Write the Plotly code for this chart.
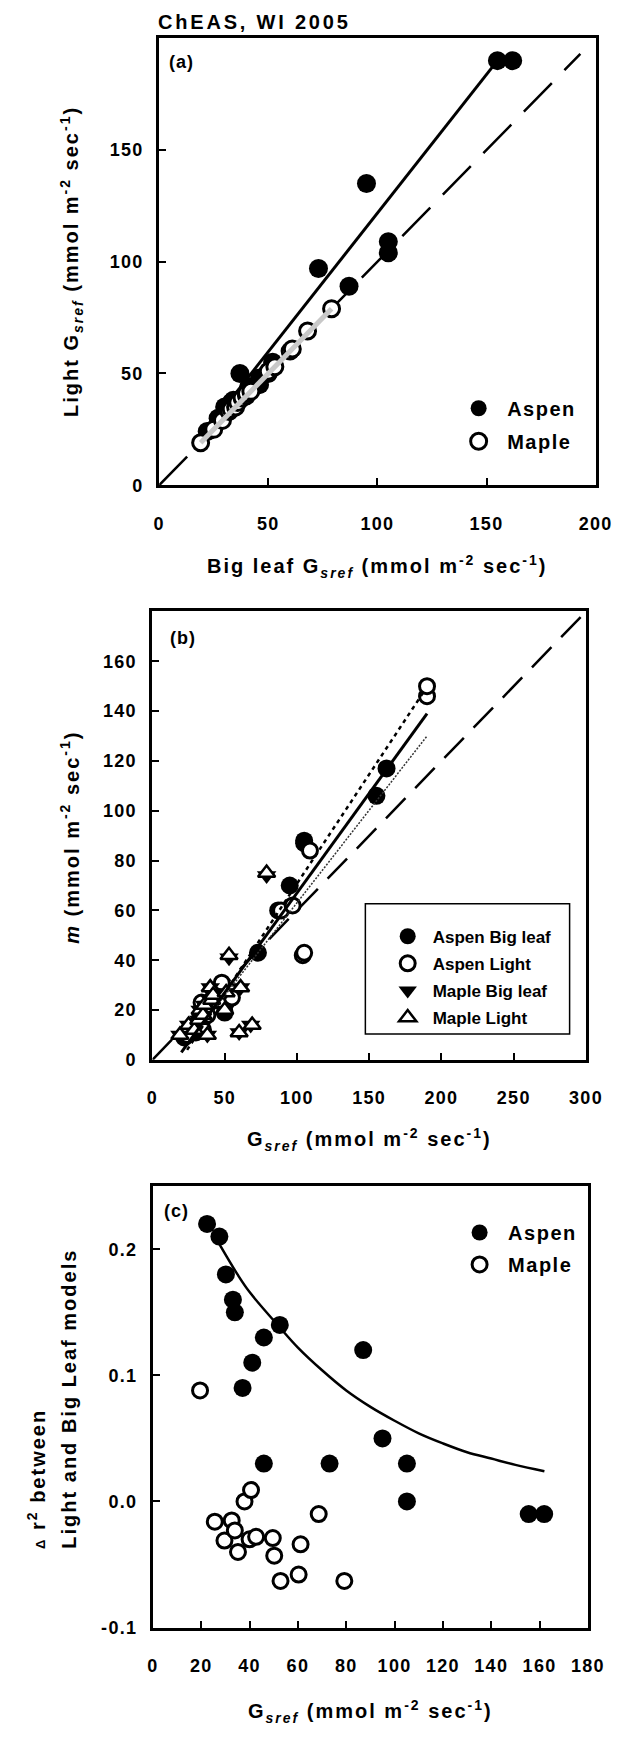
import plotly.graph_objects as go

# ---------------- data ----------------
# Panel (a): Big leaf Gsref vs Light Gsref
a_aspen_big = [22, 27, 30, 33, 34, 37, 41, 46, 46, 52, 73, 87, 95, 105, 105, 155, 162]
a_aspen_light = [24, 30, 35, 37, 38, 50, 44, 45, 48, 55, 97, 89, 135, 109, 104, 190, 190]
a_maple_big = [19, 25, 29, 32, 33, 35, 36, 38, 40, 40, 42, 50, 50, 53, 60, 61, 68, 79]
a_maple_light = [19, 25, 29, 33, 34, 35, 37, 39, 40, 41, 42, 50, 51, 53, 60, 61, 69, 79]
a_aspen_fit_x = [20, 155]
a_aspen_fit_y = [22.5, 190]
a_maple_fit_x = [19, 79]
a_maple_fit_y = [19, 79]
a_ref_x = [0, 193]
a_ref_y = [0, 193]

# Panel (b): Gsref vs m
b_aspen_bl_x = [22, 27, 30, 33, 34, 37, 41, 46, 46, 50, 73, 87, 95, 105, 105, 155, 162]
b_aspen_bl_m = [9, 13, 11, 17, 15, 21, 24, 27, 25, 19, 43, 60, 70, 88, 87, 106, 117]
b_aspen_li_x = [24, 30, 35, 34, 38, 44, 45, 48, 50, 55, 89, 97, 104, 105, 109, 190, 190]
b_aspen_li_m = [10, 14, 12, 23, 18, 24, 26, 31, 22, 25, 60, 62, 42, 43, 84, 146, 150]
b_maple_bl_x = [19, 25, 29, 32, 33, 35, 36, 38, 40, 40, 42, 50, 50, 53, 60, 61, 68, 79]
b_maple_bl_m = [10, 14, 12, 16, 20, 18, 22, 10, 29, 24, 26, 20, 27, 41, 11, 29, 14, 74]
b_maple_li_x = [19, 25, 29, 32, 33, 35, 36, 38, 40, 41, 42, 50, 51, 53, 60, 61, 69, 79]
b_maple_li_m = [10, 14, 12, 16, 20, 18, 22, 10, 29, 24, 26, 20, 27, 42, 11, 29, 14, 75]
b_fit_solid_x = [20, 190]
b_fit_solid_y = [3, 139]
b_fit_upper_x = [24, 188]
b_fit_upper_y = [4, 148]
b_fit_lower_x = [22, 190]
b_fit_lower_y = [5, 130]
b_ref_x = [0, 300]
b_ref_y = [0, 180]

# Panel (c): Gsref vs delta r2
c_aspen_x = [22.4, 27.5, 30.2, 33.1, 33.9, 37.1, 41.1, 45.9, 45.9, 52.5, 73.1, 87, 95, 105.1, 105.1, 155.5, 161.9]
c_aspen_y = [0.22, 0.21, 0.18, 0.16, 0.15, 0.09, 0.11, 0.13, 0.03, 0.14, 0.03, 0.12, 0.05, 0.03, 0.0, -0.01, -0.01]
c_maple_x = [19.5, 25.6, 29.6, 32.6, 33.9, 35.2, 37.9, 40.6, 40.0, 42.7, 49.6, 50.2, 52.8, 60.3, 61.1, 68.6, 79.2]
c_maple_y = [0.088, -0.016, -0.031, -0.015, -0.023, -0.040, 0.0, 0.009, -0.030, -0.028, -0.029, -0.043, -0.063, -0.058, -0.034, -0.010, -0.063]
c_fit_x = [27.5, 35, 40, 52.5, 60, 70, 80, 90, 100, 110, 120, 130, 140, 150, 162]
c_fit_y = [0.204, 0.180, 0.166, 0.138, 0.122, 0.104, 0.088, 0.075, 0.064, 0.054, 0.046, 0.039, 0.034, 0.029, 0.024]

# tick labels
a_x_ticks = [0, 50, 100, 150, 200]
a_y_ticks = [0, 50, 100, 150]
b_x_ticks = [0, 50, 100, 150, 200, 250, 300]
b_y_ticks = [0, 20, 40, 60, 80, 100, 120, 140, 160]
c_x_ticks = [0, 20, 40, 60, 80, 100, 120, 140, 160, 180]
c_y_ticks = [-0.1, 0.0, 0.1, 0.2]
c_y_labels = ["-0.1", "0.0", "0.1", "0.2"]

# ---------------- layout helpers ----------------
W, H = 629, 1739
FONT = "Liberation Sans, Arial, sans-serif"


def PX(x):
    return x / W


def PY(y):
    return 1 - y / H


def sp(text, ls=1.5):
    return f"<span style='letter-spacing:{ls}px'>{text}</span>"


A_X, A_Y = (159, 612), (38.5, 488)
B_X, B_Y = (152, 602), (615, 1066)
C_X, C_Y = (152.5, 604), (1193, 1637)


def axis(dom, rng, vals, texts, anchor, is_x):
    return dict(
        domain=list(dom), range=rng, tickvals=vals, ticktext=[sp(t, 1.3) for t in texts],
        anchor=anchor, showline=True, linewidth=3, linecolor="black", mirror=True,
        ticks="inside", ticklen=7, tickwidth=2, tickcolor="black",
        showgrid=False, zeroline=False, fixedrange=True,
        tickfont=dict(family=FONT, size=18, color="black", weight="bold"),
        ticklabelstandoff=20 if is_x else 9,
    )


fig = go.Figure()
blk = "black"

# ---- panel (a) ----
fig.add_trace(go.Scatter(x=a_ref_x, y=a_ref_y, mode="lines", xaxis="x", yaxis="y",
                         line=dict(color=blk, width=2.5, dash="40px,18px"), showlegend=False))
fig.add_trace(go.Scatter(x=a_aspen_fit_x, y=a_aspen_fit_y, mode="lines", xaxis="x", yaxis="y",
                         line=dict(color=blk, width=3), showlegend=False))
fig.add_trace(go.Scatter(x=a_aspen_big, y=a_aspen_light, mode="markers", xaxis="x", yaxis="y",
                         name=sp("Aspen", 1.5), legend="legend", legendgroup="a1",
                         marker=dict(symbol="circle", size=19, color=blk, line=dict(width=0))))
fig.add_trace(go.Scatter(x=a_maple_big, y=a_maple_light, mode="markers", xaxis="x", yaxis="y",
                         name=sp("Maple", 1.5), legend="legend", legendgroup="a2",
                         marker=dict(symbol="circle", size=16, color="white", line=dict(color=blk, width=3))))
fig.add_trace(go.Scatter(x=a_maple_fit_x, y=a_maple_fit_y, mode="lines", xaxis="x", yaxis="y",
                         line=dict(color="#c8c8c8", width=5), showlegend=False))

# ---- panel (b) ----
fig.add_trace(go.Scatter(x=b_ref_x, y=b_ref_y, mode="lines", xaxis="x2", yaxis="y2",
                         line=dict(color=blk, width=2.5, dash="28px,14px"), showlegend=False))
fig.add_trace(go.Scatter(x=b_aspen_bl_x, y=b_aspen_bl_m, mode="markers", xaxis="x2", yaxis="y2",
                         name="Aspen Big leaf", legend="legend2", legendgroup="b1",
                         marker=dict(symbol="circle", size=18, color=blk, line=dict(width=0))))
fig.add_trace(go.Scatter(x=b_aspen_li_x, y=b_aspen_li_m, mode="markers", xaxis="x2", yaxis="y2",
                         name="Aspen Light", legend="legend2", legendgroup="b2",
                         marker=dict(symbol="circle", size=15, color="white", line=dict(color=blk, width=3))))
fig.add_trace(go.Scatter(x=b_maple_bl_x, y=b_maple_bl_m, mode="markers", xaxis="x2", yaxis="y2",
                         name="Maple Big leaf", legend="legend2", legendgroup="b3",
                         marker=dict(symbol="triangle-down", size=17, color=blk, line=dict(width=0))))
fig.add_trace(go.Scatter(x=b_maple_li_x, y=b_maple_li_m, mode="markers", xaxis="x2", yaxis="y2",
                         name="Maple Light", legend="legend2", legendgroup="b4",
                         marker=dict(symbol="triangle-up", size=15, color="white", line=dict(color=blk, width=2.5))))
fig.add_trace(go.Scatter(x=b_fit_lower_x, y=b_fit_lower_y, mode="lines", xaxis="x2", yaxis="y2",
                         line=dict(color="#333333", width=1.5, dash="2px,1.5px"), showlegend=False))
fig.add_trace(go.Scatter(x=b_fit_upper_x, y=b_fit_upper_y, mode="lines", xaxis="x2", yaxis="y2",
                         line=dict(color=blk, width=2.5, dash="4px,4px"), showlegend=False))
fig.add_trace(go.Scatter(x=b_fit_solid_x, y=b_fit_solid_y, mode="lines", xaxis="x2", yaxis="y2",
                         line=dict(color=blk, width=3), showlegend=False))

# ---- panel (c) ----
fig.add_trace(go.Scatter(x=c_fit_x, y=c_fit_y, mode="lines", xaxis="x3", yaxis="y3",
                         line=dict(color=blk, width=2.5, shape="spline"), showlegend=False))
fig.add_trace(go.Scatter(x=c_aspen_x, y=c_aspen_y, mode="markers", xaxis="x3", yaxis="y3",
                         name=sp("Aspen", 1.5), legend="legend3", legendgroup="c1",
                         marker=dict(symbol="circle", size=18, color=blk, line=dict(width=0))))
fig.add_trace(go.Scatter(x=c_maple_x, y=c_maple_y, mode="markers", xaxis="x3", yaxis="y3",
                         name=sp("Maple", 1.5), legend="legend3", legendgroup="c2",
                         marker=dict(symbol="circle", size=15, color="white", line=dict(color=blk, width=3))))

# ---------------- axes ----------------
fig.update_layout(
    xaxis=axis((PX(A_X[0]), PX(A_X[1])), [0, 200], a_x_ticks, [str(v) for v in a_x_ticks], "y", True),
    yaxis=axis((PY(A_Y[1]), PY(A_Y[0])), [0, 200], a_y_ticks, [str(v) for v in a_y_ticks], "x", False),
    xaxis2=axis((PX(B_X[0]), PX(B_X[1])), [0, 300], b_x_ticks, [str(v) for v in b_x_ticks], "y2", True),
    yaxis2=axis((PY(B_Y[1]), PY(B_Y[0])), [0, 180], b_y_ticks, [str(v) for v in b_y_ticks], "x2", False),
    xaxis3=axis((PX(C_X[0]), PX(C_X[1])), [0, 180], c_x_ticks, [str(v) for v in c_x_ticks], "y3", True),
    yaxis3=axis((PY(C_Y[1]), PY(C_Y[0])), [-0.1, 0.25], c_y_ticks, c_y_labels, "x3", False),
)

leg_common = dict(bgcolor="rgba(0,0,0,0)", borderwidth=0, xanchor="left", yanchor="top",
                  traceorder="grouped")
fig.update_layout(
    width=W, height=H, margin=dict(l=0, r=0, t=0, b=0),
    paper_bgcolor="white", plot_bgcolor="white",
    font=dict(family=FONT, size=18, color="black", weight="bold"),
    legend=dict(x=PX(461), y=PY(391), font=dict(family=FONT, size=20, color="black", weight="bold"),
                tracegroupgap=4, itemwidth=47, **leg_common),
    legend2=dict(x=PX(391), y=PY(924), font=dict(family=FONT, size=17, color="black", weight="bold"),
                 tracegroupgap=2, itemwidth=40, **leg_common),
    legend3=dict(x=PX(462), y=PY(1220), font=dict(family=FONT, size=20, color="black", weight="bold"),
                 tracegroupgap=3, itemwidth=47, **leg_common),
)

# legend frame for panel (b)
fig.add_shape(type="rect", xref="paper", yref="paper", x0=PX(373), x1=PX(585), y0=PY(1040), y1=PY(909),
              line=dict(color="black", width=1.5), fillcolor="rgba(0,0,0,0)", layer="above")


def ann(text, x, y, size=17, angle=0, xanchor="center", yanchor="middle"):
    fig.add_annotation(text=text, x=PX(x), y=PY(y), xref="paper", yref="paper", showarrow=False,
                       textangle=angle, xanchor=xanchor, yanchor=yanchor,
                       font=dict(family=FONT, size=size, color="black", weight="bold"))


unit = "(mmol m<sup>-2</sup> sec<sup>-1</sup>)"
gs = "G<sub><i>sref</i></sub>"

ann(sp("ChEAS, WI 2005", 2.8), 156, 22, size=20, xanchor="left")
ann(sp("(a)", 1), 167, 62, size=18, xanchor="left")
ann(sp("(b)", 1), 168, 642, size=18, xanchor="left")
ann(sp("(c)", 1), 162, 1218, size=18, xanchor="left")

ann(sp(f"Light {gs} {unit}", 2), 68, 263, size=20, angle=-90)
ann(sp(f"Big leaf {gs} {unit}", 2), 385, 570, size=20)
ann(sp(f"<i>m</i> {unit}", 2), 66, 842, size=20, angle=-90)
ann(sp(f"{gs} {unit}", 2), 377, 1146, size=20)
ann(sp("<span style='font-size:13px'>\u0394</span> r<sup>2</sup> between", 2), 31, 1560, size=20,
    angle=-90, yanchor="bottom")
ann(sp("Light and Big Leaf models", 2), 65, 1560, size=20, angle=-90, yanchor="bottom")
ann(sp(f"{gs} {unit}", 2), 378, 1721, size=20)

fig.write_html("out.html")
